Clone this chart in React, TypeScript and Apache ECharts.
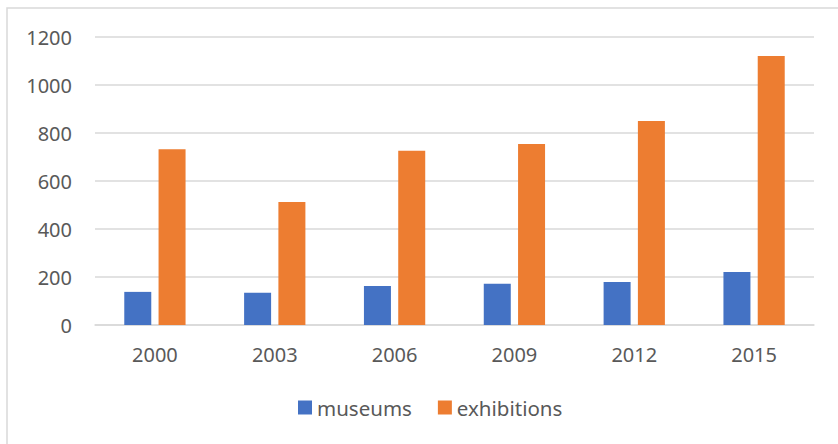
import React, { useEffect, useRef } from "react";
import * as echarts from "echarts";

const categories = ["2000", "2003", "2006", "2009", "2012", "2015"];
const museums = [138, 134, 163, 172, 179, 221];
const exhibitions = [732, 512, 726, 754, 850, 1121];
const seriesNames = ["museums", "exhibitions"];

const FONT = "'Noto Sans', 'Liberation Sans', sans-serif";
const TEXT = "#595959";
const GRID = "#d9d9d9";

export default function App() {
  const ref = useRef<HTMLDivElement>(null);
  useEffect(() => {
    if (!ref.current) return;
    const chart = echarts.init(ref.current, undefined, { renderer: "svg" });
    chart.setOption({
      animation: false,
      backgroundColor: "#ffffff",
      graphic: [
        {
          type: "rect",
          shape: { x: 7, y: 8, width: 860, height: 470 },
          style: { fill: "none", stroke: GRID, lineWidth: 1.5 },
          silent: true,
        },
      ],
      grid: { left: 95, right: 24, top: 37, bottom: 119, containLabel: false },
      legend: {
        left: 298,
        top: 397,
        padding: 0,
        itemWidth: 14,
        itemHeight: 14,
        itemGap: 26,
        icon: "rect",
        textStyle: { fontFamily: FONT, fontSize: 20.5, color: TEXT },
        data: seriesNames,
      },
      xAxis: {
        type: "category",
        data: categories,
        axisLine: { show: true, lineStyle: { color: GRID, width: 1.5 } },
        axisTick: { show: false },
        axisLabel: { fontFamily: FONT, fontSize: 20, color: TEXT, margin: 19 },
      },
      yAxis: {
        type: "value",
        min: 0,
        max: 1200,
        interval: 200,
        axisLine: { show: false },
        axisTick: { show: false },
        splitLine: { lineStyle: { color: GRID, width: 1.5 } },
        axisLabel: {
          fontFamily: FONT,
          fontSize: 20,
          color: TEXT,
          margin: 23,
          formatter: (v: number) => String(v),
        },
      },
      series: [
        {
          name: seriesNames[0],
          type: "bar",
          data: museums,
          barWidth: 27,
          barGap: "27%",
          itemStyle: { color: "#4472C4" },
        },
        {
          name: seriesNames[1],
          type: "bar",
          data: exhibitions,
          barWidth: 27,
          barGap: "27%",
          itemStyle: { color: "#ED7D31" },
        },
      ],
    });
    return () => chart.dispose();
  }, []);
  return <div ref={ref} style={{ width: 838, height: 444, position: "absolute", left: 0, top: 0 }} />;
}
